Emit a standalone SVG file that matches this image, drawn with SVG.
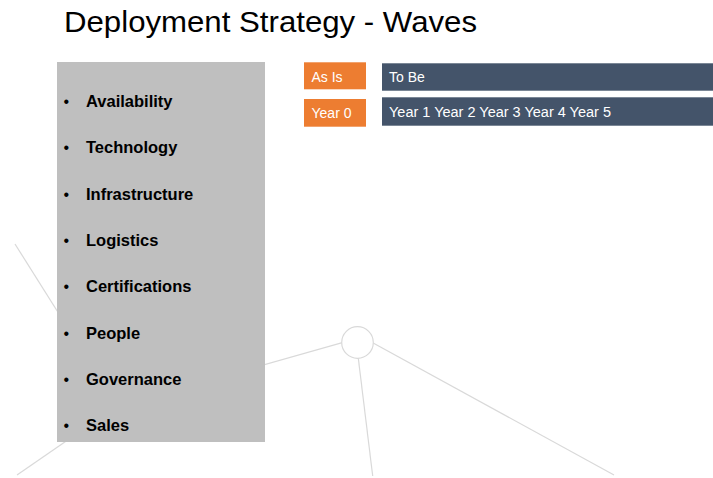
<svg xmlns="http://www.w3.org/2000/svg" width="713" height="478" viewBox="0 0 713 478">
  <style>
    .title { font-family: "Liberation Sans", Arial, sans-serif; font-size: 29px; fill: #000000; }
    .item { font-family: "Liberation Sans", Arial, sans-serif; font-size: 16.5px; font-weight: bold; fill: #000000; }
    .bullet { font-family: "Liberation Sans", Arial, sans-serif; font-size: 16px; fill: #000000; }
    .tag { font-family: "Liberation Sans", Arial, sans-serif; font-size: 14px; fill: #ffffff; }
    .wire { stroke: #d9d9d9; stroke-width: 1.2; fill: none; }
  </style>
  <rect width="713" height="478" fill="#ffffff"/>

  <!-- background network lines -->
  <g id="connectors">
    <line class="wire" x1="15" y1="244" x2="117" y2="406"/>
    <line class="wire" x1="17" y1="475" x2="117" y2="406"/>
    <line class="wire" x1="117" y1="406" x2="342.3" y2="342.7"/>
    <line class="wire" x1="358.3" y1="358.3" x2="372.7" y2="476"/>
    <line class="wire" x1="372.7" y1="342.7" x2="614" y2="475"/>
  </g>

  <g id="hub">
    <circle cx="357.5" cy="342.5" r="15.8" fill="#ffffff" stroke="#d9d9d9" stroke-width="1.2"/>
  </g>

  <text id="title" class="title" x="64" y="32" textLength="413" lengthAdjust="spacingAndGlyphs">Deployment Strategy - Waves</text>

  <!-- factor list -->
  <g id="factors">
    <rect x="57" y="62" width="208" height="380" fill="#bfbfbf"/>
    <g class="bullet">
      <text x="63.5" y="107">•</text>
      <text x="63.5" y="153.3">•</text>
      <text x="63.5" y="199.6">•</text>
      <text x="63.5" y="245.9">•</text>
      <text x="63.5" y="292.2">•</text>
      <text x="63.5" y="338.5">•</text>
      <text x="63.5" y="384.8">•</text>
      <text x="63.5" y="431">•</text>
    </g>
    <g class="item">
      <text x="86" y="107">Availability</text>
      <text x="86" y="153.3">Technology</text>
      <text x="86" y="199.6">Infrastructure</text>
      <text x="86" y="245.9">Logistics</text>
      <text x="86" y="292.2">Certifications</text>
      <text x="86" y="338.5">People</text>
      <text x="86" y="384.8">Governance</text>
      <text x="86" y="431">Sales</text>
    </g>
  </g>

  <g id="as-is">
    <rect x="304" y="62.3" width="62" height="27" fill="#ed7d31"/>
    <text class="tag" x="311.5" y="82">As Is</text>
  </g>
  <g id="year-0">
    <rect x="304" y="99" width="62" height="27.7" fill="#ed7d31"/>
    <text class="tag" x="311.5" y="118">Year 0</text>
  </g>
  <g id="to-be">
    <rect x="382" y="63.3" width="331" height="27.4" fill="#44546a"/>
    <text class="tag" x="389" y="82">To Be</text>
  </g>
  <g id="years">
    <rect x="382" y="97.3" width="331" height="28.4" fill="#44546a"/>
    <text class="tag" x="389" y="117.3" textLength="222" lengthAdjust="spacingAndGlyphs">Year 1 Year 2 Year 3 Year 4 Year 5</text>
  </g>
</svg>
